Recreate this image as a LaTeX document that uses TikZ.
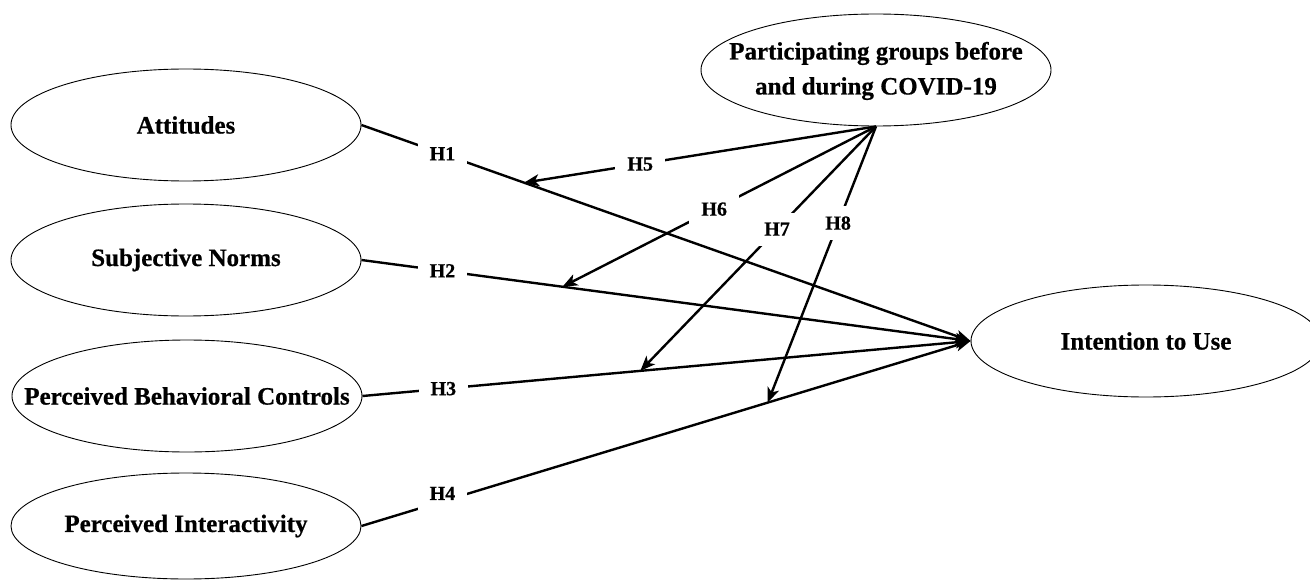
\documentclass[tikz,border=0pt]{standalone}
\usepackage{fontspec}
\setmainfont{Liberation Serif}[FakeBold=0.6]
\usetikzlibrary{shapes.geometric,arrows.meta}

% zero-width box so the ellipse keeps its fixed size
\newcommand{\zw}[1]{\makebox[0pt]{#1}}

\tikzset{
  construct/.style={ellipse, draw, line width=0.9bp, minimum width=350bp,
    minimum height=112bp, inner sep=0pt,
    font=\fontsize{25bp}{35bp}\selectfont\bfseries},
  link/.style={line width=2.4bp},
  tipped/.style={-{Stealth[length=15bp,width=12bp,inset=4bp]}},
  hyp/.style={fill=white, inner xsep=12bp, inner ysep=10bp,
    font=\fontsize{20bp}{24bp}\selectfont\bfseries}
}

\begin{document}
\begin{tikzpicture}[x=1bp, y=-1bp]
  \useasboundingbox (0,0) rectangle (1310,581);
  \clip (0,0) rectangle (1310,581);

  % constructs
  \node[construct] (att) at (186,125) {\zw{Attitudes}};
  \node[construct] (sn)  at (186,260) {\zw{Subjective Norms}};
  \node[construct] (pbc) at (187,396) {\zw{Perceived Behavioral Controls}};
  \node[construct, minimum height=106bp] (pi) at (186,526) {\zw{Perceived Interactivity}};
  \node[construct] (int) at (1146,341) {\zw{Intention to Use}};
  \node[construct] (grp) at (876,70)
    {\zw{\begin{tabular}{@{}c@{}}Participating groups before\\and during COVID-19\end{tabular}}};

  % direct effects H1--H4
  \draw[link, tipped] (att.east) -- node[hyp, pos=0.133] (h1) {H1}
    coordinate[pos=0.267] (m1) (int.west);
  \draw[link, tipped] (sn.east) -- node[hyp, pos=0.133] (h2) {H2}
    coordinate[pos=0.33] (m2) (int.west);
  \draw[link, tipped] (pbc.east) -- node[hyp, pos=0.133] (h3) {H3}
    coordinate[pos=0.457] (m3) (int.west);
  \draw[link, tipped] (pi.east) -- node[hyp, pos=0.133, yshift=8bp] (h4) {H4}
    coordinate[pos=0.667] (m4) (int.west);

  % moderating effects H5--H8
  \draw[link, tipped] (grp.south) -- node[hyp, pos=0.67]  (h5) {H5} (m1);
  \draw[link, tipped] (grp.south) -- node[hyp, pos=0.516] (h6) {H6} (m2);
  \draw[link, tipped] (grp.south) -- node[hyp, pos=0.42]  (h7) {H7} (m3);
  \draw[link, tipped] (grp.south) -- node[hyp, pos=0.35]  (h8) {H8} (m4);
\end{tikzpicture}
\end{document}
